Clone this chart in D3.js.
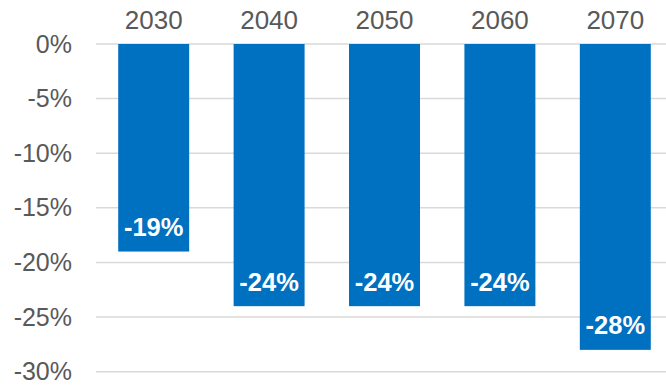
<!DOCTYPE html>
<html>
<head>
<meta charset="utf-8">
<script src="https://cdn.jsdelivr.net/npm/d3@7"></script>
<style>
  html, body { margin: 0; padding: 0; background: #fff; }
  svg { display: block; }
  text { font-family: Arial, "Liberation Sans", sans-serif; }
</style>
</head>
<body>
<svg id="chart" width="666" height="385"></svg>
<script>
// Projected change by decade
const years = ["2030", "2040", "2050", "2060", "2070"];
const changes = [-19, -24, -24, -24, -28];
const yTicks = [0, -5, -10, -15, -20, -25, -30];

const svg = d3.select("#chart");
const plotLeft = 96, plotTop = 44, plotBottom = 371.7;
const step = 115.4;

const x = d3.scaleBand()
  .domain(years)
  .range([plotLeft, plotLeft + step * years.length])
  .paddingInner(0.385)
  .paddingOuter(0.1925);

const y = d3.scaleLinear()
  .domain([0, -30])
  .range([plotTop, plotBottom]);

// horizontal gridlines
svg.append("g")
  .selectAll("line")
  .data(yTicks)
  .join("line")
  .attr("x1", plotLeft)
  .attr("x2", 666)
  .attr("y1", d => y(d))
  .attr("y2", d => y(d))
  .attr("stroke", "#d9d9d9")
  .attr("stroke-width", 1.5);

// y axis labels
const yAxis = d3.axisLeft(y)
  .tickValues(yTicks)
  .tickFormat(d => d + "%")
  .tickSize(0)
  .tickPadding(0);

svg.append("g")
  .attr("transform", `translate(72,0)`)
  .call(yAxis)
  .call(g => g.select(".domain").remove())
  .call(g => g.selectAll("text")
    .attr("font-size", 25)
    .attr("fill", "#595959")
    .attr("font-family", "Arial, 'Liberation Sans', sans-serif"));

// bars
svg.append("g")
  .selectAll("rect")
  .data(years.map((yr, i) => ({ yr, v: changes[i] })))
  .join("rect")
  .attr("x", d => x(d.yr))
  .attr("width", x.bandwidth())
  .attr("y", y(0))
  .attr("height", d => y(d.v) - y(0))
  .attr("fill", "#0070c0");

// category labels above the plot
const xAxis = d3.axisTop(x).tickSize(0).tickPadding(0);
svg.append("g")
  .attr("transform", `translate(0,28.5)`)
  .call(xAxis)
  .call(g => g.select(".domain").remove())
  .call(g => g.selectAll("text")
    .attr("dy", 0)
    .attr("font-size", 26)
    .attr("fill", "#595959")
    .attr("font-family", "Arial, 'Liberation Sans', sans-serif"));

// value labels inside the bar ends
svg.append("g")
  .selectAll("text")
  .data(years.map((yr, i) => ({ yr, v: changes[i] })))
  .join("text")
  .attr("x", d => x(d.yr) + x.bandwidth() / 2)
  .attr("y", d => y(d.v) - 15.5)
  .attr("text-anchor", "middle")
  .attr("font-size", 25.5)
  .attr("font-weight", "bold")
  .attr("fill", "#ffffff")
  .text(d => d.v + "%");
</script>
</body>
</html>
